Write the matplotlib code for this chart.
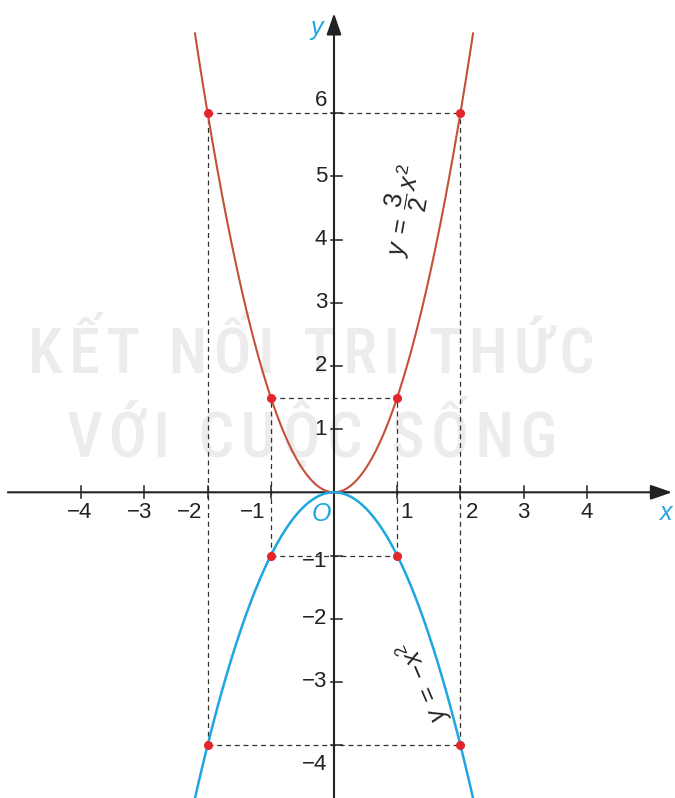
import numpy as np
import matplotlib
matplotlib.use("Agg")
import matplotlib.pyplot as plt

# ---- data ----
coef_up = 1.5          # y = 3/2 x^2
coef_down = -1.0       # y = -x^2
x_marks = [-2, -1, 1, 2]
x_ticks = [-4, -3, -2, -1, 1, 2, 3, 4]
y_ticks = [-4, -3, -2, -1, 1, 2, 3, 4, 5, 6]
x_tick_labels = ["−4", "−3", "−2", "−1", "1", "2", "3", "4"]
y_tick_labels = ["−4", "−3", "−2", "−1", "1", "2", "3", "4", "5", "6"]
watermark_lines = [["KẾT", "NỐI", "TRI", "THỨC"], ["VỚI", "CUỘC", "SỐNG"]]

plt.rcParams['font.family'] = ['Liberation Sans', 'DejaVu Sans']
plt.rcParams['mathtext.fontset'] = 'custom'
plt.rcParams['mathtext.rm'] = 'Liberation Sans'
plt.rcParams['mathtext.it'] = 'Liberation Sans:italic'

RED = '#c4503a'
BLUE = '#1ea6e2'
DOT = '#e3262b'
DASH = '#333333'
AX = '#222222'

fig = plt.figure(figsize=(6.75, 7.98), dpi=100)
ax = fig.add_axes([0, 0, 1, 1])
ax.set_xlim(-334 / 63.2, (675 - 334) / 63.2)
ax.set_ylim(-(798 - 492.3) / 63.2, 492.3 / 63.2)
ax.axis('off')

px = 1 / 63.2  # one pixel in data units

# watermark
wm_font = ['Roboto Condensed', 'Liberation Sans Narrow', 'DejaVu Sans']
for words, yb in zip(watermark_lines, [1.90, 0.56]):
    s = "  ".join("\u200a".join(w) for w in words)
    ax.text(-0.35, yb, s, ha='center', va='baseline', fontsize=45, fontweight='medium',
            color='#ececec', family=wm_font, fontstretch='condensed', zorder=0)

# axes with arrows
ax.annotate('', xy=(5.35, 0), xytext=(-5.16, 0),
            arrowprops=dict(arrowstyle='-|>,head_length=1.3,head_width=0.45',
                            lw=1.5, color=AX, mutation_scale=10, shrinkA=0, shrinkB=0),
            zorder=3)
ax.annotate('', xy=(0, 7.58), xytext=(0, -4.84),
            arrowprops=dict(arrowstyle='-|>,head_length=1.3,head_width=0.45',
                            lw=1.5, color=AX, mutation_scale=10, shrinkA=0, shrinkB=0),
            zorder=3)

# ticks
for xt in x_ticks:
    ax.plot([xt, xt], [-6 * px, 6 * px], color=AX, lw=1.1, zorder=3)
for yt in y_ticks:
    ax.plot([-3 * px, 8 * px], [yt, yt], color=AX, lw=1.1, zorder=3)

# tick labels
x_label_pos = [-4.03, -3.07, -2.28, -1.28, 1.14, 2.18, 2.99, 4.0]
for xp, lab in zip(x_label_pos, x_tick_labels):
    ax.text(xp, -20 * px, lab, ha='center', va='center', fontsize=16, color='#222222')
y_label_pos = {6: 6.2, -1: -1.1, -4: -4.31}
for yt, lab in zip(y_ticks, y_tick_labels):
    ax.text(-7 * px, y_label_pos.get(yt, yt), lab, ha='right', va='center',
            fontsize=16, color='#222222')

# axis names
ax.text(-0.27, 7.35, 'y', fontsize=18, style='italic', color=BLUE, ha='center', va='center')
ax.text(5.25, -0.33, 'x', fontsize=18, style='italic', color=BLUE, ha='center', va='center')
ax.text(-0.2, -0.34, 'O', fontsize=18, style='italic', color=BLUE, ha='center', va='center')

# curves
xs = np.linspace(-2.2, 2.2, 400)
ax.plot(xs, coef_up * xs ** 2, color=RED, lw=1.5, zorder=4)
ax.plot(xs, coef_down * xs ** 2, color=BLUE, lw=1.8, zorder=4)

# dashed guides
ls = (0, (4, 3))
outer = [m for m in x_marks if abs(m) == 2]
inner = [m for m in x_marks if abs(m) == 1]
for xm in x_marks:
    ax.plot([xm, xm], [coef_down * xm ** 2, coef_up * xm ** 2], color=DASH, lw=0.9,
            linestyle=ls, zorder=2)
for grp in (outer, inner):
    for c in (coef_up, coef_down):
        ax.plot([min(grp), max(grp)], [c * grp[0] ** 2, c * grp[0] ** 2], color=DASH,
                lw=0.9, linestyle=ls, zorder=2)

# points
xm = np.array(x_marks, dtype=float)
ax.plot(xm, coef_up * xm ** 2, 'o', color=DOT, ms=5.5, zorder=5)
ax.plot(xm, coef_down * xm ** 2, 'o', color=DOT, ms=5.5, zorder=5)

# curve labels
ax.text(1.12, 4.46, r'$y\;=\;\dfrac{3}{2}\,x^2$', fontsize=18, rotation=80,
        ha='center', va='center', color='#222222', rotation_mode='anchor')
ax.text(1.41, -3.0, r'$y\;=\;{-}x^2$', fontsize=18, rotation=113,
        ha='center', va='center', color='#222222', rotation_mode='anchor')

fig.savefig('out.png', dpi=100)
